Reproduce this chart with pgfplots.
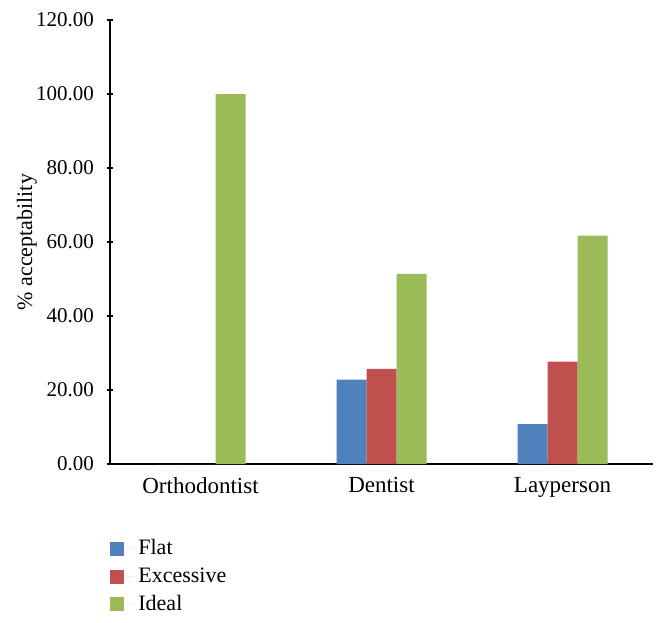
\documentclass[border=0pt]{standalone}
\usepackage{fontspec}
\setmainfont{Liberation Serif}
\usepackage{pgfplots}
\pgfplotsset{compat=1.18}
\definecolor{cflat}{HTML}{4F81BD}
\definecolor{cexc}{HTML}{C0504D}
\definecolor{cideal}{HTML}{9BBB59}
\begin{document}
\begin{tikzpicture}
\begin{axis}[
  name=ax,
  scale only axis,
  width=271.5pt, height=222pt,
  ybar=0pt, bar width=15pt,
  xmin=-0.5, xmax=2.5,
  ymin=0, ymax=120,
  xtick={0,1,2},
  xticklabels={Orthodontist,Dentist,Layperson},
  x tick style={draw=none},
  ytick={0,20,40,60,80,100,120},
  tick align=outside,
  major tick length=3pt,
  axis x line=bottom, axis y line=left,
  axis line style={-, black, line width=0.6pt},
  y tick style={black, line width=0.6pt},
  /pgf/number format/assume math mode=true,
  yticklabel={\pgfmathprintnumber[fixed,fixed zerofill,precision=2]{\tick}},
  yticklabel style={font=\fontsize{10.5}{12}\selectfont, xshift=-3pt},
  xticklabel style={font=\fontsize{11.5}{13}\selectfont, yshift=-1.5pt},
  ylabel={\% acceptability},
  ylabel style={font=\fontsize{11}{13}\selectfont, at={(axis description cs:-0.153,0.5)}, anchor=center},
  legend style={draw=none, at={(axis description cs:0,-0.16)}, anchor=north west, font=\fontsize{11}{13}\selectfont, row sep=1pt, inner sep=0pt},
  legend cell align=left,
  legend image code/.code={\fill[#1] (0pt,-3.5pt) rectangle (7pt,3.5pt); \path (7pt,0pt) -- (12pt,0pt);},
]
\addplot[fill=cflat, draw=none] coordinates {(0,0) (1,22.8) (2,10.8)};
\addplot[fill=cexc, draw=none] coordinates {(0,0) (1,25.7) (2,27.7)};
\addplot[fill=cideal, draw=none] coordinates {(0,100) (1,51.4) (2,61.7)};
\legend{Flat,Excessive,Ideal}
\end{axis}
\pgfresetboundingbox
\path[use as bounding box] (-55pt,-79pt) rectangle (278.5pt,232pt);
\end{tikzpicture}
\end{document}
